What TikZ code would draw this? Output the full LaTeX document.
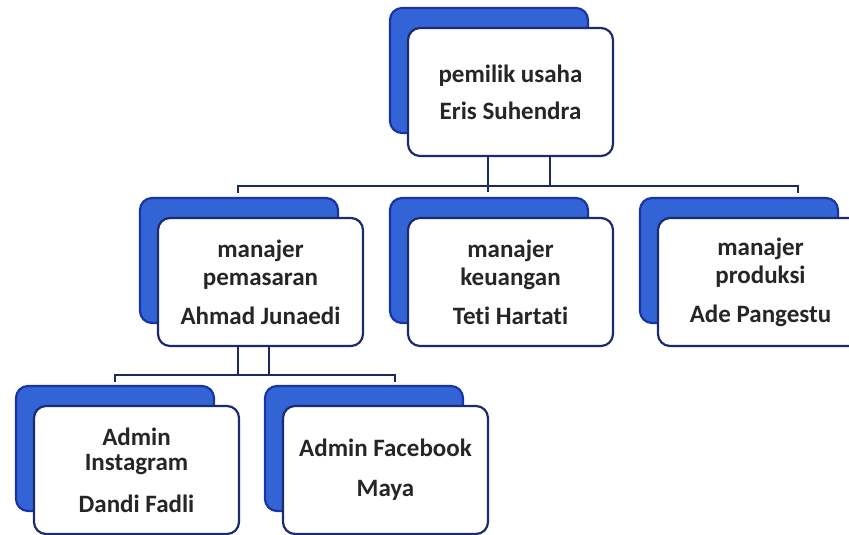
\documentclass[tikz,border=0pt]{standalone}
\usepackage{fontspec}
\setmainfont[Ligatures=NoCommon]{Carlito}
\definecolor{backblue}{HTML}{3264D6}
\definecolor{backedge}{HTML}{1A34A8}
\definecolor{frontedge}{HTML}{1C2A6E}
\definecolor{lineblue}{HTML}{1C2A5E}
\tikzset{
  backbox/.style={fill=backblue, draw=backedge, line width=2.2pt, rounded corners=12pt},
  frontbox/.style={fill=white, draw=frontedge, line width=2.2pt, rounded corners=12pt,
    minimum width=205pt, minimum height=128pt, inner sep=0pt, align=center,
    font=\fontsize{25}{28}\selectfont\bfseries, text=black!85},
  conn/.style={draw=lineblue, line width=2.2pt}
}
\newcommand\orgbox[4]{%
  \path[backbox] (#2-120.5,#3-84) rectangle ++(198,125);
  \node[frontbox] (#1) at (#2,#3) {#4};}
\begin{document}
\begin{tikzpicture}[x=1pt,y=-1pt]
\useasboundingbox (0,0) rectangle (849,535);
\clip (0,0) rectangle (849,535);
% boxes
\orgbox{top}{510.5}{92}{pemilik usaha\\[9pt]Eris Suhendra}
\orgbox{pem}{260.5}{282}{manajer\\pemasaran\\[11pt]Ahmad Junaedi}
\orgbox{keu}{510.5}{282}{manajer\\keuangan\\[11pt]Teti Hartati}
\orgbox{pro}{760.5}{282}{manajer\\produksi\\[11pt]Ade Pangestu}
\orgbox{ig}{136.5}{470}{Admin\\[-3pt]Instagram\\[14pt]Dandi Fadli}
\orgbox{fb}{385.5}{470}{Admin Facebook\\[12pt]Maya}
% level 1 connectors
\coordinate (barL) at (238,186);
\coordinate (barR) at (798,186);
\draw[conn] ([xshift=-22.5pt]top.south) -- ++(0,35);
\draw[conn] ([xshift=39.5pt]top.south) -- ++(0,29);
\draw[conn] (barL) ++(0,7) -- (barL) -- (barR) -- ++(0,7);
% level 2 connectors
\coordinate (bar2L) at (115,375);
\coordinate (bar2R) at (395,375);
\draw[conn] ([xshift=-22.5pt]pem.south) -- ++(0,28);
\draw[conn] ([xshift=8.5pt]pem.south) -- ++(0,28);
\draw[conn] (bar2L) ++(0,7) -- (bar2L) -- (bar2R) -- ++(0,7);
\end{tikzpicture}
\end{document}
